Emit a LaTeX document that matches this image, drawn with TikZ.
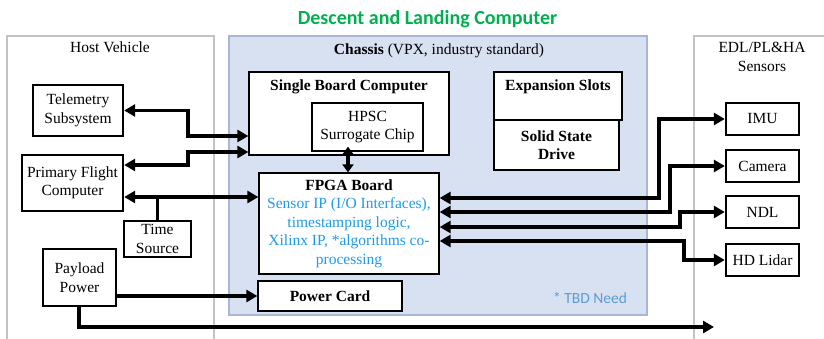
\documentclass[tikz,border=0pt]{standalone}
\usepackage{fontspec}
\setmainfont{Liberation Serif}
\newfontfamily\carlito{Carlito}
\usetikzlibrary{arrows.meta}
\definecolor{titlegreen}{RGB}{0,176,80}
\definecolor{fpgablue}{RGB}{30,155,230}
\definecolor{tbdblue}{RGB}{91,155,213}
\definecolor{chassisfill}{RGB}{216,225,241}
\definecolor{chassisdraw}{RGB}{168,184,212}
\definecolor{panelgray}{RGB}{195,195,195}
\begin{document}
\begin{tikzpicture}[x=1pt,y=-1pt,
  txt/.style={font=\fontsize{15.5}{18.5}\selectfont, align=center},
  btxt/.style={font=\bfseries\fontsize{15.5}{18.5}\selectfont, align=center},
  sz/.style 2 args={minimum width=#1pt, minimum height=#2pt},
  panel/.style={draw=panelgray, line width=1.2pt, fill=white, inner sep=0pt},
  chassisbox/.style={draw=chassisdraw, line width=2pt, fill=chassisfill, inner sep=0pt},
  inbox/.style={draw=black, line width=1.3pt, fill=white, inner sep=0pt, txt},
  outbox/.style={draw=black, line width=2.4pt, fill=white, inner sep=0pt, txt},
  tip/.tip={Triangle[length=11pt,width=12pt]},
  smalltip/.tip={Triangle[length=8pt,width=11pt]},
  arr/.style={line width=3.8pt, tip-tip},
  sarr/.style={line width=3.8pt, smalltip-smalltip},
  arrone/.style={line width=3.8pt, -tip},
  plain/.style={line width=3.8pt}
]
\useasboundingbox (0,0) rectangle (824,339);
\clip (0,0) rectangle (824,339);

% title
\node[font=\carlito\bfseries\fontsize{20}{22}\selectfont, text=titlegreen] (title) at (427.5,19) {Descent and Landing Computer};

% panels
\node[panel, sz={207}{314}] (host) at (110.5,193) {};
\node[chassisbox, sz={418}{279}] (chassis) at (438,175.5) {};
\node[panel, sz={146}{314}] (sens) at (767,193) {};
\node[txt] (hostlbl) at (110,47) {Host Vehicle};
\node[txt] (chaslbl) at (439,51) {\textbf{Chassis} (VPX, industry standard)};
\node[txt] (senslbl) at (762,57) {EDL/PL\&HA\\Sensors};

% host vehicle boxes
\node[outbox, sz={90}{51}] (tel) at (78,110.5) {Telemetry\\Subsystem};
\node[outbox, sz={101}{56}] (pfc) at (72.5,183) {Primary Flight\\Computer};
\node[outbox, sz={67}{36}] (ts) at (157.5,239) {Time\\Source};
\node[outbox, sz={73}{57}] (pp) at (79.5,277.5) {Payload\\Power};

% chassis boxes
\node[inbox, sz={200}{83}] (sbc) at (349,113.5) {};
\node[btxt] (sbclbl) at (349,87) {Single Board Computer};
\node[inbox, sz={111}{48}] (hpsc) at (367.5,127) {HPSC\\Surrogate Chip};
\node[inbox, sz={128}{48}] (exp) at (558,96) {};
\node[btxt] (explbl) at (558,87) {Expansion Slots};
\node[inbox, sz={125}{50}, btxt] (ssd) at (556.5,145) {Solid State\\Drive};
\node[inbox, sz={180}{101}] (fpga) at (349,223.5) {\textbf{FPGA Board}\\\textcolor{fpgablue}{Sensor IP (I/O Interfaces),}\\\textcolor{fpgablue}{timestamping logic,}\\\textcolor{fpgablue}{Xilinx IP, *algorithms co-}\\\textcolor{fpgablue}{processing}};
\node[inbox, sz={144}{30}, btxt] (pc) at (330,296) {Power Card};
\node[text=tbdblue, font=\carlito\fontsize{15.5}{17}\selectfont] (tbd) at (590,298) {* TBD Need};

% sensors
\node[outbox, sz={73}{32}] (imu) at (762.5,119) {IMU};
\node[outbox, sz={73}{32}] (cam) at (762.5,166) {Camera};
\node[outbox, sz={73}{32}] (ndl) at (762.5,212) {NDL};
\node[outbox, sz={73}{32}] (lidar) at (762.5,260) {HD Lidar};

% connectors
\draw[arr] (tel.east) -- (188,110.5) |- (sbc.west |- 0,136);
\draw[arr] (pfc.east |- 0,165) -- (188,165) |- (sbc.west |- 0,152);
\draw[arr] (pfc.east |- 0,197) -- (fpga.west |- 0,197);
\draw[plain] (ts.north) -- (ts.north |- 0,196);
\draw[sarr] (hpsc.south -| 348,0) ++(0,-5) -- (fpga.north -| 348,0);
\draw[arrone] (pp.east |- 0,296) -- (pc.west |- 0,296);
\coordinate (outend) at (714,327);
\draw[arrone] (pp.south -| 79,0) |- (outend);
\draw[arr] (fpga.east |- 0,198) -| (659,119) -- (imu.west);
\draw[arr] (fpga.east |- 0,212) -| (670,166) -- (cam.west);
\draw[arr] (fpga.east |- 0,227) -| (680,212) -- (ndl.west);
\draw[arr] (fpga.east |- 0,241) -| (684,260) -- (lidar.west);
\end{tikzpicture}
\end{document}
